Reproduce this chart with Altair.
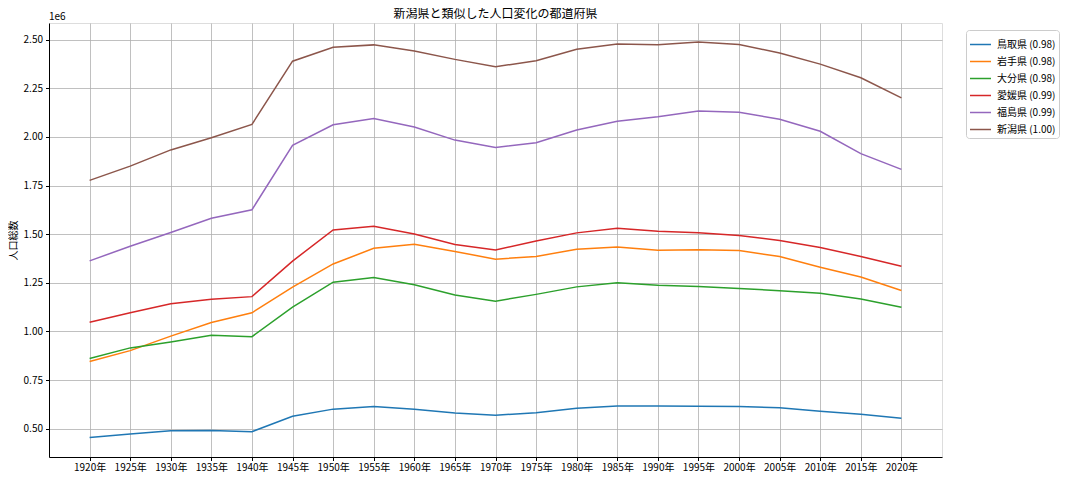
import altair as alt
import pandas as pd

years = [1920, 1925, 1930, 1935, 1940, 1945, 1950, 1955, 1960, 1965, 1970,
         1975, 1980, 1985, 1990, 1995, 2000, 2005, 2010, 2015, 2020]

tottori = [454675, 472230, 489266, 490461, 484417, 563220, 600177, 614259, 599135, 579853, 568777,
           581311, 604221, 616024, 615722, 614929, 613289, 607012, 588667, 573441, 553407]
iwate = [845540, 900984, 975771, 1046111, 1095793, 1227789, 1346728, 1427097, 1448517, 1411118, 1371383,
         1385563, 1421927, 1433611, 1416928, 1419505, 1416180, 1385041, 1330147, 1279594, 1210534]
oita = [860282, 915136, 945771, 980458, 972975, 1124513, 1252999, 1277199, 1239655, 1187480, 1155566,
        1190314, 1228913, 1250214, 1236942, 1231306, 1221140, 1209571, 1196529, 1166338, 1123852]
ehime = [1046720, 1096366, 1142122, 1164898, 1178705, 1361484, 1521878, 1540628, 1500687, 1446384, 1418124,
         1465215, 1506637, 1529983, 1515025, 1506700, 1493092, 1467815, 1431493, 1385262, 1334841]
fukushima = [1362750, 1437596, 1508150, 1581563, 1625521, 1957356, 2062394, 2095237, 2051137, 1983754, 1946077,
             1970616, 2035272, 2080304, 2104058, 2133592, 2126935, 2091319, 2029064, 1914039, 1833152]
niigata = [1776474, 1849807, 1933326, 1995777, 2064402, 2389653, 2460997, 2473492, 2442037, 2398931, 2360982,
           2391938, 2451357, 2478470, 2474583, 2488364, 2475733, 2431459, 2374450, 2304264, 2201272]

series_names = ["鳥取県 (0.98)", "岩手県 (0.98)", "大分県 (0.98)", "愛媛県 (0.99)", "福島県 (0.99)", "新潟県 (1.00)"]
series_values = [tottori, iwate, oita, ehime, fukushima, niigata]
colors = ["#1f77b4", "#ff7f0e", "#2ca02c", "#d62728", "#9467bd", "#8c564b"]
y_ticks = [500000, 750000, 1000000, 1250000, 1500000, 1750000, 2000000, 2250000, 2500000]

title_text = ["新潟県と類似した人口変化の都道府県"]
offset_label = ["1e6"]

rows = []
for name, vals in zip(series_names, series_values):
    for yr, v in zip(years, vals):
        rows.append({"year": yr, "pop": v, "pref": name})
df = pd.DataFrame(rows)

FONT = "Noto Sans CJK JP"
W, H = 893, 434

lines = alt.Chart(df).mark_line(strokeWidth=1.5).encode(
    x=alt.X("year:Q",
            scale=alt.Scale(domain=[1915, 2025], nice=False, zero=False),
            axis=alt.Axis(values=years, labelExpr="datum.value + '年'", title=None,
                          grid=True, gridColor="#b0b0b0", gridWidth=0.8,
                          tickSize=3.5, tickColor="#000", domainColor="#000",
                          labelFontSize=10, labelColor="#000", labelPadding=2)),
    y=alt.Y("pop:Q",
            scale=alt.Scale(domain=[354000, 2586000], nice=False, zero=False),
            axis=alt.Axis(values=y_ticks, labelExpr="format(datum.value / 1000000, '.2f')",
                          title="人口総数", titleFontSize=10, titleFontWeight="normal",
                          titleColor="#000", titlePadding=5,
                          grid=True, gridColor="#b0b0b0", gridWidth=0.8,
                          tickSize=3.5, tickColor="#000", domainColor="#000",
                          labelFontSize=10, labelColor="#000", labelPadding=3)),
    color=alt.Color("pref:N",
                    scale=alt.Scale(domain=series_names, range=colors),
                    sort=series_names,
                    legend=alt.Legend(title=None, orient="none", legendX=917, legendY=7,
                                      symbolType="stroke", symbolSize=440, symbolStrokeWidth=1.5,
                                      labelFontSize=10, labelColor="#000", labelFont=FONT,
                                      labelOffset=5, padding=3, strokeColor="#cccccc", cornerRadius=3,
                                      fillColor="white", rowPadding=0)),
)

offset_text = alt.Chart(pd.DataFrame({"t": offset_label})).mark_text(
    align="left", baseline="bottom", fontSize=10, font=FONT, color="#000"
).encode(x=alt.value(0), y=alt.value(-1), text="t:N")

title_mark = alt.Chart(pd.DataFrame({"t": title_text})).mark_text(
    align="center", baseline="bottom", fontSize=12, font=FONT, color="#000"
).encode(x=alt.value(W / 2), y=alt.value(-2), text="t:N")

chart = alt.layer(lines, offset_text, title_mark).properties(
    width=W, height=H,
    autosize=alt.AutoSizeParams(type="none"),
    padding={"left": 41, "top": 15, "right": 118, "bottom": 22},
).configure_view(stroke="#000", strokeWidth=1).configure(font=FONT).configure_axis(labelFont=FONT, titleFont=FONT)

chart.save("out.html", embed_options={"renderer": "svg", "actions": False})
